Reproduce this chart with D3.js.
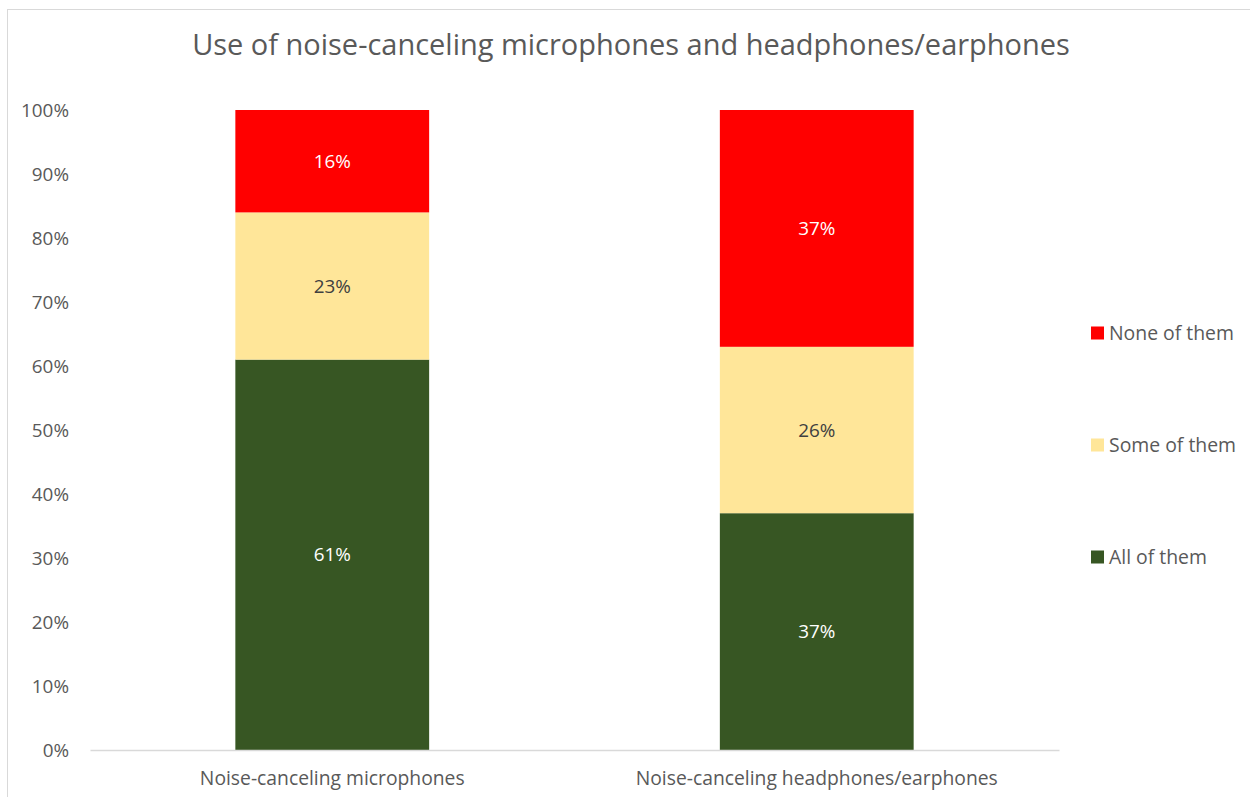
<!DOCTYPE html>
<html>
<head>
<meta charset="utf-8">
<script src="https://cdn.jsdelivr.net/npm/d3@7/dist/d3.min.js"></script>
<style>
  html, body { margin: 0; padding: 0; background: #fff; }
  svg { display: block; font-family: "Open Sans", "Noto Sans", sans-serif; }
</style>
</head>
<body>
<svg id="chart" width="1250" height="797"></svg>
<script>
const title = "Use of noise-canceling microphones and headphones/earphones";
const categories = ["Noise-canceling microphones", "Noise-canceling headphones/earphones"];
const seriesNames = ["All of them", "Some of them", "None of them"];
const allOfThem = [61, 37];
const someOfThem = [23, 26];
const noneOfThem = [16, 37];
const yTicks = [0, 10, 20, 30, 40, 50, 60, 70, 80, 90, 100];
const colors = ["#375623", "#FFE699", "#FF0000"];
const labelColors = ["#ffffff", "#404040", "#ffffff"];

const svg = d3.select("#chart");
const W = 1250, H = 797;
const plot = { left: 90, right: 1059, top: 110, bottom: 750 };

// fit font size of a text element to target width
function fit(sel, target) {
  sel.each(function () {
    const base = parseFloat(this.getAttribute("font-size"));
    const w = this.getComputedTextLength();
    if (w > 0) this.setAttribute("font-size", (base * target / w).toFixed(2));
  });
}

// chart border
svg.append("rect")
  .attr("x", 7.5).attr("y", 9.5)
  .attr("width", 1300).attr("height", 900)
  .attr("fill", "#fff").attr("stroke", "#d9d9d9").attr("stroke-width", 1);

const x = d3.scaleBand().domain(categories).range([plot.left, plot.right]).padding(0);
const barW = x.bandwidth() * 0.4;
const y = d3.scaleLinear().domain([0, 100]).range([plot.bottom, plot.top]);

const rows = categories.map((c, i) => ({
  cat: c,
  "All of them": allOfThem[i],
  "Some of them": someOfThem[i],
  "None of them": noneOfThem[i]
}));
const stack = d3.stack().keys(seriesNames)(rows);

// title
const t = svg.append("text")
  .attr("x", 631).attr("y", 55)
  .attr("text-anchor", "middle")
  .attr("font-size", 27)
  .attr("fill", "#595959")
  .text(title);
fit(t, 878);

// y axis tick labels
const yAxis = d3.axisLeft(y).tickValues(yTicks).tickFormat(d => d + "%").tickSize(0).tickPadding(0);
const ya = svg.append("g").attr("transform", "translate(69,0)").call(yAxis);
ya.select(".domain").remove();
ya.selectAll("text")
  .attr("font-family", "'Open Sans', 'Noto Sans', sans-serif")
  .attr("font-size", 18)
  .attr("fill", "#595959")
  .attr("dy", "0.35em");
fit(ya.selectAll("text").filter(d => d === 100), 48);
const yfs = ya.selectAll("text").filter(d => d === 100).attr("font-size");
ya.selectAll("text").attr("font-size", yfs);

// bars
const layers = svg.append("g").selectAll("g").data(stack).join("g")
  .attr("fill", (d, i) => colors[i]);
layers.selectAll("rect").data(d => d).join("rect")
  .attr("x", d => x(d.data.cat) + (x.bandwidth() - barW) / 2)
  .attr("width", barW)
  .attr("y", d => y(d[1]))
  .attr("height", d => y(d[0]) - y(d[1]));

// data labels
const lbl = svg.append("g");
stack.forEach((s, si) => {
  lbl.selectAll(null).data(s).join("text")
    .attr("x", d => x(d.data.cat) + x.bandwidth() / 2)
    .attr("y", d => (y(d[0]) + y(d[1])) / 2)
    .attr("dy", "0.35em")
    .attr("text-anchor", "middle")
    .attr("font-size", yfs)
    .attr("fill", labelColors[si])
    .text(d => (d[1] - d[0]) + "%");
});

// x axis
const xAxis = d3.axisBottom(x).tickSize(0).tickPadding(0);
const xa = svg.append("g").attr("transform", `translate(0,${plot.bottom})`).call(xAxis);
xa.select(".domain").attr("stroke", "#d9d9d9").attr("stroke-width", 1.5);
xa.selectAll("text")
  .attr("font-family", "'Open Sans', 'Noto Sans', sans-serif")
  .attr("font-size", 18)
  .attr("fill", "#595959")
  .attr("y", 28)
  .attr("dy", "0.35em");
fit(xa.selectAll("text").filter(d => d === categories[0]), 265);
const xfs = xa.selectAll("text").filter(d => d === categories[0]).attr("font-size");
xa.selectAll("text").attr("font-size", xfs);

// legend
const legendY = { "None of them": 333, "Some of them": 445, "All of them": 557 };
const lg = svg.append("g");
seriesNames.forEach((n, i) => {
  lg.append("rect")
    .attr("x", 1091).attr("y", legendY[n] - 6.5)
    .attr("width", 13).attr("height", 13)
    .attr("fill", colors[i]);
  lg.append("text")
    .attr("class", "lt")
    .attr("x", 1109).attr("y", legendY[n])
    .attr("dy", "0.35em")
    .attr("font-size", 18)
    .attr("fill", "#595959")
    .text(n);
});
const lt0 = lg.selectAll(".lt").filter(function () { return this.textContent === "None of them"; });
fit(lt0, 125);
lg.selectAll(".lt").attr("font-size", lt0.attr("font-size"));
</script>
</body>
</html>
